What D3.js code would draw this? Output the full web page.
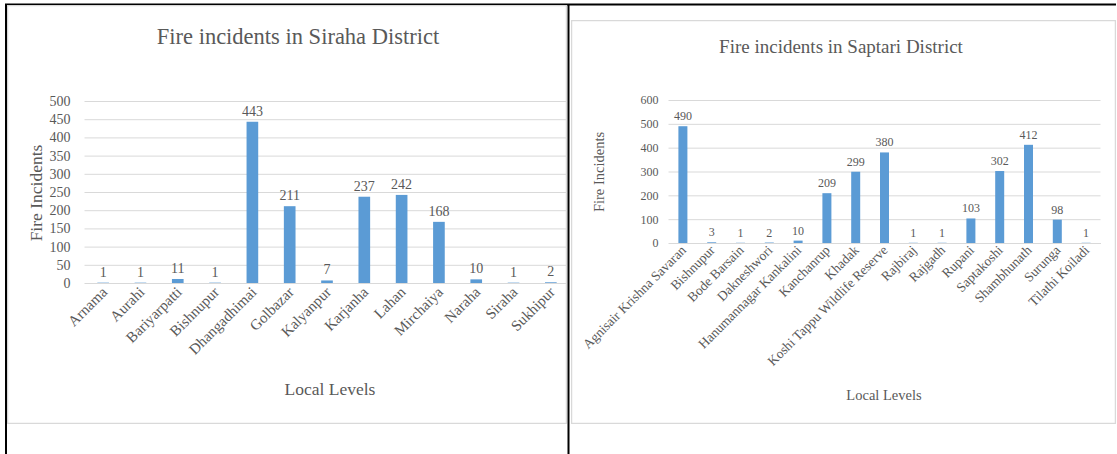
<!DOCTYPE html>
<html>
<head>
<meta charset="utf-8">
<script src="https://cdn.jsdelivr.net/npm/d3@7/dist/d3.min.js"></script>
<style>
  html, body { margin: 0; padding: 0; background: #fff; }
  svg { display: block; }
  svg text { font-family: "Liberation Serif", "Times New Roman", serif !important; fill: #595959; }
</style>
</head>
<body>
<svg id="page" width="1117" height="454"></svg>
<script>
// Siraha District
const sirahaLevels = ["Arnama", "Aurahi", "Bariyarpatti", "Bishnupur", "Dhangadhimai", "Golbazar",
  "Kalyanpur", "Karjanha", "Lahan", "Mirchaiya", "Naraha", "Siraha", "Sukhipur"];
const sirahaFires = [1, 1, 11, 1, 443, 211, 7, 237, 242, 168, 10, 1, 2];
const sirahaTicks = [0, 50, 100, 150, 200, 250, 300, 350, 400, 450, 500];

// Saptari District
const saptariLevels = ["Agnisair Krishna Savaran", "Bishnupur", "Bode Barsain", "Dakneshwori",
  "Hanumannagar Kankalini", "Kanchanrup", "Khadak", "Koshi Tappu Wildlife Reserve", "Rajbiraj",
  "Rajgadh", "Rupani", "Saptakoshi", "Shambhunath", "Surunga", "Tilathi Koiladi"];
const saptariFires = [490, 3, 1, 2, 10, 209, 299, 380, 1, 1, 103, 302, 412, 98, 1];
const saptariTicks = [0, 100, 200, 300, 400, 500, 600];

const BAR = "#5B9BD5", GRID = "#D9D9D9", INK = "#595959";
const SERIF = '"Liberation Serif", "Times New Roman", serif';
const svg = d3.select("#page");

// table cell lines
svg.append("line").attr("x1", 5).attr("x2", 1116).attr("y1", 4.5).attr("y2", 4.5)
  .attr("stroke", "#000").attr("stroke-width", 2);
svg.append("line").attr("x1", 6).attr("x2", 6).attr("y1", 4).attr("y2", 454)
  .attr("stroke", "#000").attr("stroke-width", 2);
svg.append("line").attr("x1", 568.5).attr("x2", 568.5).attr("y1", 4).attr("y2", 454)
  .attr("stroke", "#000").attr("stroke-width", 2);

function drawChart(cfg) {
  const clipId = "clip" + cfg.id;
  svg.append("clipPath").attr("id", clipId).append("rect")
    .attr("x", cfg.frame[0]).attr("y", cfg.frame[1])
    .attr("width", cfg.frame[2] - cfg.frame[0]).attr("height", cfg.frame[3] - cfg.frame[1]);
  const c = svg.append("g").attr("clip-path", `url(#${clipId})`);

  // chart frame
  c.append("rect").attr("x", cfg.frame[0] + 0.5).attr("y", cfg.frame[1] + 0.5)
    .attr("width", cfg.frame[2] - cfg.frame[0] - 1).attr("height", cfg.frame[3] - cfg.frame[1] - 1)
    .attr("fill", "#fff").attr("stroke", "#D9D9D9").attr("stroke-width", 1.5);

  const x = d3.scaleBand().domain(cfg.levels).range([cfg.left, cfg.right])
    .paddingInner(0.6875).paddingOuter(0.34375);
  const y = d3.scaleLinear().domain([0, cfg.max]).range([cfg.bottom, cfg.top]);

  // gridlines + tick labels
  const yAxis = d3.axisLeft(y).tickValues(cfg.ticks).tickSize(-(cfg.right - cfg.left)).tickPadding(cfg.tickPad);
  const ya = c.append("g").attr("transform", `translate(${cfg.left},0)`).call(yAxis)
    .attr("font-family", null).attr("font-size", null);
  ya.select(".domain").remove();
  ya.selectAll(".tick line").attr("stroke", GRID).attr("stroke-width", 1);
  ya.selectAll(".tick text").style("font-size", cfg.tickFont + "px").style("font-family", SERIF)
    .attr("fill", INK);

  // category axis
  const xAxis = d3.axisBottom(x).tickSize(0).tickPadding(0);
  const xa = c.append("g").attr("transform", `translate(0,${cfg.bottom})`).call(xAxis)
    .attr("font-family", null).attr("font-size", null);
  xa.select(".domain").attr("stroke", GRID);
  xa.selectAll(".tick text")
    .style("font-size", cfg.catFont + "px").style("font-family", SERIF).attr("fill", INK)
    .attr("text-anchor", "end").attr("dy", null).attr("y", 0)
    .attr("transform", `translate(${cfg.catDx},${cfg.catDy}) rotate(-45)`);

  // bars
  c.append("g").selectAll("rect").data(cfg.values).join("rect")
    .attr("x", (d, i) => x(cfg.levels[i]))
    .attr("width", x.bandwidth())
    .attr("y", d => y(d))
    .attr("height", d => cfg.bottom - y(d))
    .attr("fill", BAR);

  // value labels
  c.append("g").selectAll("text").data(cfg.values).join("text")
    .attr("x", (d, i) => x(cfg.levels[i]) + x.bandwidth() / 2)
    .attr("y", d => y(d) - cfg.labelGap)
    .attr("text-anchor", "middle").style("font-size", cfg.tickFont + "px")
    .text(d => d);

  // titles
  c.append("text").attr("x", cfg.titleX).attr("y", cfg.titleY).attr("text-anchor", "middle")
    .style("font-size", cfg.titleFont + "px").text(cfg.title);
  c.append("text").attr("transform", `translate(${cfg.yTitleX},${cfg.yTitleY}) rotate(-90)`)
    .attr("text-anchor", "middle").style("font-size", cfg.axisFont + "px").text("Fire Incidents");
  c.append("text").attr("x", cfg.xTitleX).attr("y", cfg.xTitleY).attr("text-anchor", "middle")
    .style("font-size", cfg.axisFont + "px").text("Local Levels");
}

drawChart({
  id: "siraha", frame: [7, 5, 567, 424],
  levels: sirahaLevels, values: sirahaFires, ticks: sirahaTicks, max: 500,
  left: 84.5, right: 569.5, top: 101, bottom: 283,
  tickFont: 14, catFont: 15, titleFont: 22.5, axisFont: 17.5, tickPad: 14,
  catDx: 5, catDy: 10, labelGap: 6,
  title: "Fire incidents in Siraha District", titleX: 298, titleY: 44,
  yTitleX: 42, yTitleY: 193, xTitleX: 330, xTitleY: 395
});

drawChart({
  id: "saptari", frame: [571, 20, 1116, 424],
  levels: saptariLevels, values: saptariFires, ticks: saptariTicks, max: 600,
  left: 668.5, right: 1100.5, top: 100, bottom: 243,
  tickFont: 12, catFont: 13.5, titleFont: 19, axisFont: 14.5, tickPad: 10,
  catDx: 4, catDy: 8, labelGap: 6,
  title: "Fire incidents in Saptari District", titleX: 841, titleY: 53,
  yTitleX: 604, yTitleY: 172, xTitleX: 884, xTitleY: 400
});
</script>
</body>
</html>
